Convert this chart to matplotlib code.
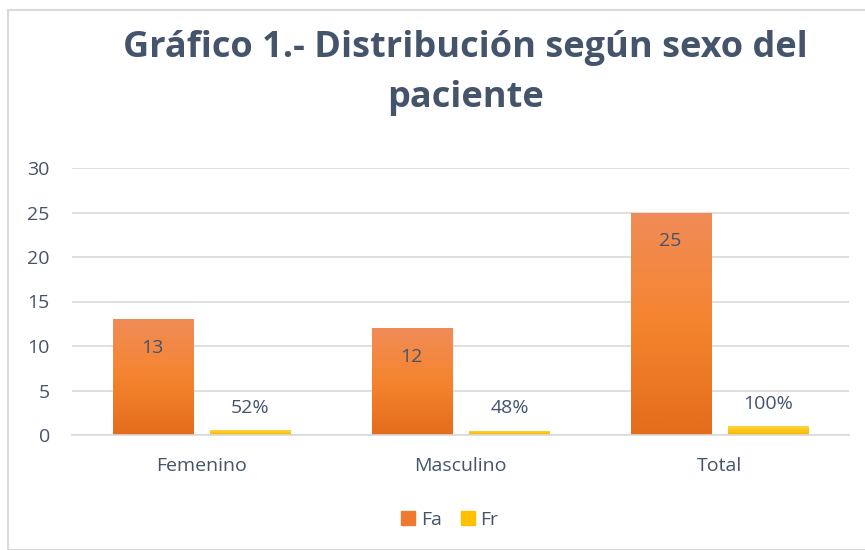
import numpy as np
import matplotlib
matplotlib.use("Agg")
import matplotlib.pyplot as plt
import matplotlib.patches as mpatches
from matplotlib.colors import LinearSegmentedColormap

plt.rcParams['font.family'] = ['Open Sans', 'DejaVu Sans']

categories = ['Femenino', 'Masculino', 'Total']
fa = [13, 12, 25]
fr = [0.52, 0.48, 1.00]
fr_labels = ['52%', '48%', '100%']

LBL = '#44546A'
GRID = '#D9D9D9'

orange_cm = LinearSegmentedColormap.from_list('o', ['#E46C1C', '#F5842E', '#F08C58'])
yellow_cm = LinearSegmentedColormap.from_list('y', ['#F2B800', '#FFC519', '#FFD24A'])


def gradient_bars(ax, bars, cmap):
    for b in bars:
        b.set_facecolor('none')
        b.set_edgecolor('none')
        x, y = b.get_x(), b.get_y()
        w, h = b.get_width(), b.get_height()
        grad = np.linspace(0, 1, 256).reshape(-1, 1)
        im = ax.imshow(grad, cmap=cmap, origin='lower', aspect='auto',
                       extent=[x, x + w, y, y + h], zorder=2)
        im.set_clip_path(b)


fig = plt.figure(figsize=(8.65, 5.5), dpi=100)
ax = fig.add_axes([72 / 865, 1 - 435 / 550, (849 - 72) / 865, (435 - 168) / 550])

x = np.arange(len(categories))
w = 0.309
off = 0.189
b1 = ax.bar(x - off, fa, w, zorder=2)
b2 = ax.bar(x + off, fr, w, zorder=2)
gradient_bars(ax, b1, orange_cm)
gradient_bars(ax, b2, yellow_cm)

for i in range(len(categories)):
    ax.text(x[i] - off, fa[i] - 2.2, str(fa[i]), ha='center', va='top',
            fontsize=14, color=LBL, zorder=3)
    ax.text(x[i] + off, fr[i] + 1.5, fr_labels[i], ha='center', va='bottom',
            fontsize=14, color=LBL, zorder=3)

ax.set_xlim(-0.5, 2.5)
ax.set_ylim(0, 30)
ax.set_yticks(range(0, 31, 5))
ax.set_xticks(x)
ax.set_xticklabels(categories)
ax.yaxis.grid(True, color=GRID, linewidth=1.2, zorder=0)
ax.set_axisbelow(True)
for s in ['top', 'right', 'left']:
    ax.spines[s].set_visible(False)
ax.spines['bottom'].set_color(GRID)
ax.spines['bottom'].set_linewidth(1.2)
ax.tick_params(axis='both', length=0, labelsize=14, labelcolor=LBL)
ax.tick_params(axis='y', pad=16)
ax.tick_params(axis='x', pad=16)

fig.text(0.538, 0.945, 'Gráfico 1.- Distribución según sexo del\npaciente',
         ha='center', va='top', fontsize=26, fontweight='bold', color=LBL,
         linespacing=1.52)

h1 = mpatches.Patch(color='#EE7A30', label='Fa')
h2 = mpatches.Patch(color='#FFC000', label='Fr')
fig.legend(handles=[h1, h2], loc='center', bbox_to_anchor=(450 / 865, 1 - 520 / 550),
           ncol=2, frameon=False, fontsize=14, labelcolor=LBL,
           handlelength=0.7, handleheight=0.7, handletextpad=0.3, columnspacing=1.0)

fig.patches.append(mpatches.Rectangle((8 / 865, 0), 1, 1 - 10 / 550, transform=fig.transFigure,
                                      fill=False, edgecolor=GRID, linewidth=1.5))

fig.savefig('out.png', dpi=100)
